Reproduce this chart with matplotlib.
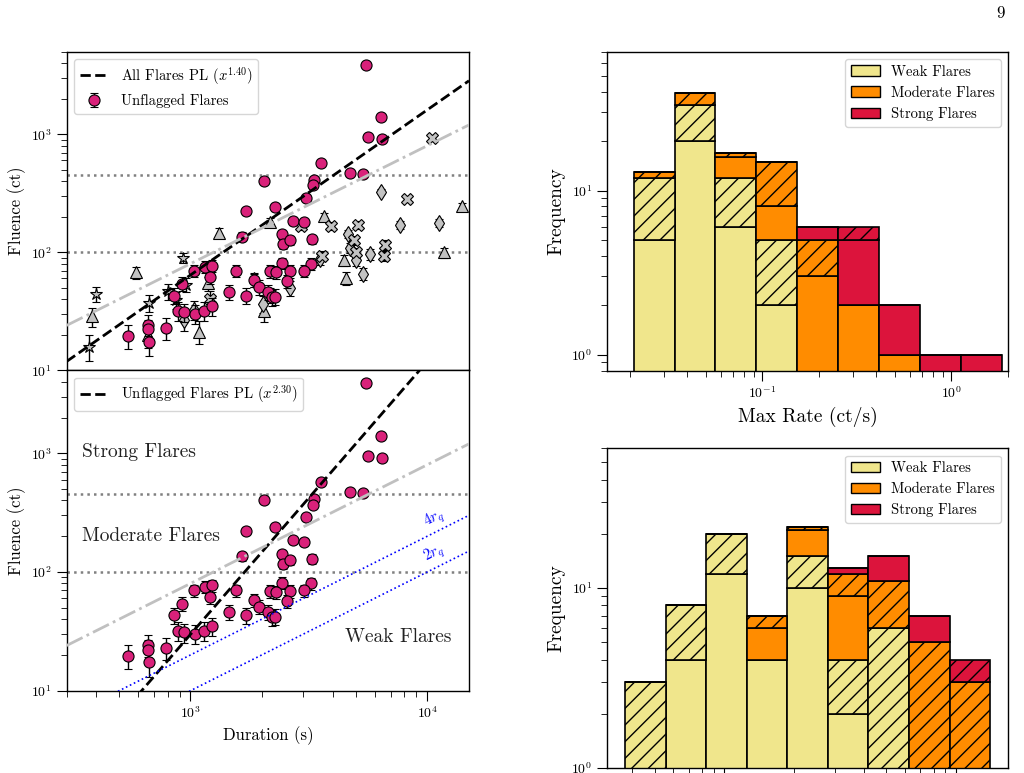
import numpy as np
import matplotlib
matplotlib.use('Agg')
import matplotlib.pyplot as plt
from matplotlib.patches import Patch

plt.rcParams.update({
    'font.family': 'serif',
    'font.serif': ['cmr10'],
    'mathtext.fontset': 'cm',
    'axes.formatter.use_mathtext': True,
    'axes.linewidth': 1.0,
    'xtick.major.size': 7, 'xtick.minor.size': 4,
    'ytick.major.size': 7, 'ytick.minor.size': 4,
    'xtick.labelsize': 10, 'ytick.labelsize': 10,
})

# unflagged flares: duration (s), fluence (ct)
unf_dur = [5530, 6400, 5640, 6420, 3550, 4700, 5350, 2050, 3330, 3280,
           3070, 2280, 1720, 2700, 3030, 1650, 2430, 2460, 2630, 3250,
           2430, 3240, 1030, 1150, 1230, 1210, 1560, 2160, 2300, 2620,
           3030, 2550, 1860, 1950, 2120, 2200, 2270, 1460, 1720, 920,
           850, 890, 940, 1040, 1140, 1230, 790, 660, 660, 665, 545]
unf_flu = [3900, 1400, 950, 920, 570, 470, 460, 405, 410, 370,
           290, 240, 223, 185, 179, 136, 142, 117, 126, 129,
           81, 80, 70, 75, 77, 62, 70, 69, 68, 69,
           70, 57, 58, 51, 46, 41.5, 42, 46, 43, 54,
           43, 32, 31, 30, 32, 35, 23, 24.3, 22.2, 17.3, 19.7]

# flagged flares, one list per marker
star_dur = [372, 400, 927, 666, 801, 957, 870]
star_flu = [15.9, 44.3, 90, 37.1, 46.6, 53.1, 39.5]
tri_dur = [383, 586, 659, 1089, 1324, 2168, 3664, 1189, 2047, 2168,
           4457, 4550, 11720, 14030]
tri_flu = [28.6, 67.4, 20.0, 21.3, 147, 182, 201, 54.8, 31.5, 43.6,
           86.3, 60.4, 99.6, 247]
dia_dur = [942, 1037, 1853, 2032, 2636, 3532, 6400, 7640, 11190, 4604,
           4722, 5000, 5740, 5337]
dia_flu = [26.8, 32.6, 58.5, 36.6, 49.8, 87.5, 327, 171, 177, 143,
           109, 86.3, 96.6, 65.8]
x_dur = [2930, 3925, 1209, 3605, 10470, 8170, 5090, 4911, 5011, 6635, 6576]
x_flu = [168, 168, 40.4, 93.3, 929, 284, 171, 126, 99.6, 116, 93.3]

# fits and reference lines
pl_all_idx, pl_all_logamp = 1.40, -2.393
pl_unf_idx, pl_unf_logamp = 2.30, -5.426
mean_rate = 0.08
r_q = 0.005
weak_cut, strong_cut = 100, 450

# histogram counts (weak, weak flagged, moderate, moderate flagged, strong, strong flagged)
rate_lo, rate_hi = 0.0208, 1.858
rate_counts = [
    [5, 20, 6, 2, 0, 0, 0, 0, 0],
    [7, 13, 6, 3, 0, 0, 0, 0, 0],
    [0, 0, 4, 3, 3, 2, 1, 0, 0],
    [1, 6, 1, 7, 2, 0, 0, 0, 0],
    [0, 0, 0, 0, 1, 3, 1, 1, 1],
    [0, 0, 0, 0, 0, 1, 0, 0, 0],
]
dur_counts = [
    [0, 4, 12, 4, 10, 2, 0, 0, 0],
    [3, 4, 8, 0, 5, 2, 6, 0, 0],
    [0, 0, 0, 2, 6, 5, 0, 0, 0],
    [0, 0, 0, 1, 1, 3, 5, 5, 3],
    [0, 0, 0, 0, 0, 1, 4, 2, 0],
    [0, 0, 0, 0, 0, 0, 0, 0, 1],
]
class_names = ['Weak Flares', 'Moderate Flares', 'Strong Flares']
class_colors = ['khaki', 'darkorange', 'crimson']

pink = '#d9217a'
grey = '#c2c2c2'

fig = plt.figure(figsize=(10.24, 7.73), dpi=100)
ax1 = fig.add_axes([0.0651, 0.5210, 0.3929, 0.4120])
ax2 = fig.add_axes([0.0651, 0.1065, 0.3929, 0.4145], sharex=ax1)
ax3 = fig.add_axes([0.5925, 0.5204, 0.3922, 0.4127])
ax4 = fig.add_axes([0.5925, 0.0069, 0.3922, 0.4132])

xx = np.logspace(np.log10(300), np.log10(15000), 200)

# top left: all flares
for d, f, m, ms in [(star_dur, star_flu, '*', 9), (tri_dur, tri_flu, '^', 8),
                    (dia_dur, dia_flu, 'd', 8), (x_dur, x_flu, 'X', 8)]:
    f = np.array(f)
    ax1.errorbar(d, f, yerr=np.sqrt(f), fmt=m, ms=ms, mfc=grey, mec='black',
                 mew=0.8, ecolor='black', elinewidth=1, capsize=3, zorder=2)
uf = np.array(unf_flu)
eb = ax1.errorbar(unf_dur, uf, yerr=np.sqrt(uf), fmt='o', ms=8, mfc=pink, mec='black',
                  mew=0.8, ecolor='black', elinewidth=1, capsize=3, zorder=2.5,
                  label='Unflagged Flares')
pl1, = ax1.plot(xx, 10**pl_all_logamp * xx**pl_all_idx, 'k--', lw=2, zorder=3,
                label=r'All Flares PL ($x^{%.2f}$)' % pl_all_idx)
ax1.plot(xx, mean_rate * xx, color='#c0c0c0', ls='-.', lw=2, zorder=3)
for c in (weak_cut, strong_cut):
    ax1.axhline(c, color='gray', ls=':', lw=1.8, zorder=1)
ax1.legend(handles=[pl1, eb], loc='upper left', fontsize=10.5)
ax1.set_xscale('log')
ax1.set_yscale('log')
ax1.set_xlim(300, 15000)
ax1.set_ylim(10, 5000)
ax1.set_ylabel('Fluence (ct)', fontsize=12)
ax1.tick_params(axis='x', which='both', bottom=False, labelbottom=False)

# bottom left: unflagged flares
ax2.errorbar(unf_dur, uf, yerr=np.sqrt(uf), fmt='o', ms=8, mfc=pink, mec='black',
             mew=0.8, ecolor='black', elinewidth=1, capsize=3, zorder=2.5)
pl2, = ax2.plot(xx, 10**pl_unf_logamp * xx**pl_unf_idx, 'k--', lw=2, zorder=3,
                label=r'Unflagged Flares PL ($x^{%.2f}$)' % pl_unf_idx)
ax2.plot(xx, mean_rate * xx, color='#c0c0c0', ls='-.', lw=2, zorder=3)
ax2.plot(xx, 4 * r_q * xx, color='blue', ls=':', lw=1.2, zorder=3)
ax2.plot(xx, 2 * r_q * xx, color='blue', ls=':', lw=1.2, zorder=3)
for c in (weak_cut, strong_cut):
    ax2.axhline(c, color='gray', ls=':', lw=1.8, zorder=1)
ax2.text(11200, 4 * r_q * 11200 * 1.07, r'$4r_q$', color='blue', fontsize=11,
         rotation=26.6, ha='center', va='bottom', rotation_mode='anchor')
ax2.text(11200, 2 * r_q * 11200 * 1.07, r'$2r_q$', color='blue', fontsize=11,
         rotation=26.6, ha='center', va='bottom', rotation_mode='anchor')
ax2.text(348, 1015, 'Strong Flares', fontsize=14, ha='left', va='center', color='#222222')
ax2.text(348, 199, 'Moderate Flares', fontsize=14, ha='left', va='center', color='#222222')
ax2.text(12600, 28.4, 'Weak Flares', fontsize=14, ha='right', va='center', color='#222222')
ax2.legend(handles=[pl2], loc='upper left', fontsize=10.5)
ax2.set_xscale('log')
ax2.set_yscale('log')
ax2.set_xlim(300, 15000)
ax2.set_ylim(10, 5000)
ax2.set_xlabel('Duration (s)', fontsize=12)
ax2.set_ylabel('Fluence (ct)', fontsize=12)

# histograms
hatches = ['', '//', '', '//', '', '//']
colors6 = [c for c in class_colors for _ in range(2)]
handles = [Patch(facecolor=c, edgecolor='black', label=n)
           for c, n in zip(class_colors, class_names)]


def stacked_hist(ax, edges, counts):
    centers = np.sqrt(edges[:-1] * edges[1:])
    _, _, conts = ax.hist([centers] * 6, bins=edges, weights=counts, stacked=True,
                          color=colors6, edgecolor='black', linewidth=1.2)
    for cont, h in zip(conts, hatches):
        for p in cont:
            p.set_hatch(h)
    ax.set_xscale('log')
    ax.set_yscale('log')
    ax.set_ylabel('Frequency', fontsize=14)
    ax.legend(handles=handles, loc='upper right', fontsize=10.5)


rate_edges = np.logspace(np.log10(rate_lo), np.log10(rate_hi), 10)
stacked_hist(ax3, rate_edges, rate_counts)
ax3.set_xlim(0.015, 2.0)
ax3.set_ylim(0.8, 70)
ax3.set_xlabel('Max Rate (ct/s)', fontsize=14)

all_dur = unf_dur + star_dur + tri_dur + dia_dur + x_dur
dur_edges = np.logspace(np.log10(min(all_dur)), np.log10(max(all_dur)), 10)
stacked_hist(ax4, dur_edges, dur_counts)
ax4.set_ylim(1, 60)
ax4.tick_params(axis='x', which='both', labelbottom=False)

fig.text(0.977, 0.983, '9', fontsize=12, ha='center', va='center')

fig.savefig('out.png', dpi=100)
